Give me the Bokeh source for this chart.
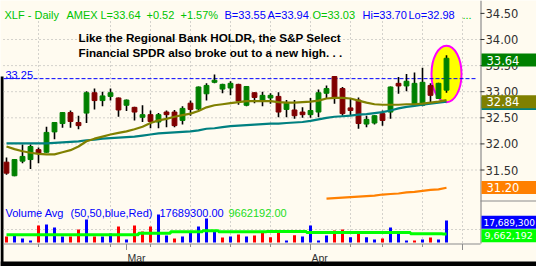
from bokeh.plotting import figure
from bokeh.models import Range1d
from bokeh.embed import file_html
from bokeh.resources import INLINE
from bokeh.core.properties import value

# ---------------- data ----------------
ticker = "XLF"
exchange = "AMEX"
opens = [31.65, 31.39, 31.67, 31.70, 31.89, 31.84, 32.23, 32.39, 32.60, 32.41,
         32.59, 32.98, 32.83, 32.91, 32.88, 32.74, 32.70, 32.51, 32.56, 32.42,
         32.61, 32.61, 32.45, 32.78, 32.67, 32.96, 33.18, 33.05, 33.07, 33.14,
         32.74, 32.98, 32.82, 32.88, 32.91, 32.66, 32.65, 32.61, 32.56, 32.61,
         32.97, 33.29, 33.06, 32.69, 32.84, 32.38, 32.40, 32.58, 32.61, 33.16,
         33.11, 32.74, 32.74, 33.12, 32.87, 33.03]
closes = [31.44, 31.70, 31.76, 31.95, 31.82, 32.22, 32.41, 32.60, 32.43, 32.35,
          32.98, 32.83, 32.92, 32.98, 32.65, 32.84, 32.61, 32.56, 32.43, 32.56,
          32.56, 32.35, 32.68, 32.66, 33.09, 33.12, 33.22, 33.14, 33.16, 32.82,
          33.10, 32.89, 32.93, 32.93, 32.61, 32.78, 32.54, 32.56, 32.64, 32.98,
          33.06, 32.88, 32.58, 32.64, 32.39, 32.47, 32.54, 32.45, 33.09, 33.11,
          33.20, 33.16, 33.18, 32.93, 33.16, 33.64]
highs = [31.74, 31.71, 31.99, 31.99, 31.93, 32.33, 32.42, 32.61, 32.64, 32.54,
         33.01, 33.06, 33.00, 33.06, 32.89, 32.85, 32.71, 32.74, 32.64, 32.59,
         32.64, 32.65, 32.72, 32.83, 33.10, 33.16, 33.33, 33.15, 33.20, 33.15,
         33.11, 32.99, 33.00, 32.97, 32.99, 32.84, 32.84, 32.70, 32.88, 33.04,
         33.12, 33.30, 33.09, 32.86, 32.89, 32.54, 32.55, 32.64, 33.10, 33.28,
         33.34, 33.37, 33.46, 33.16, 33.17, 33.70]
lows = [31.41, 31.38, 31.63, 31.52, 31.63, 31.83, 32.09, 32.31, 32.31, 32.28,
        32.40, 32.66, 32.72, 32.83, 32.52, 32.63, 32.45, 32.42, 32.30, 32.30,
        32.32, 32.32, 32.37, 32.54, 32.64, 32.83, 33.16, 32.97, 32.93, 32.75,
        32.72, 32.78, 32.72, 32.77, 32.51, 32.51, 32.48, 32.50, 32.50, 32.51,
        32.88, 32.77, 32.54, 32.54, 32.29, 32.32, 32.37, 32.35, 32.48, 32.96,
        33.01, 32.72, 32.72, 32.80, 32.86, 32.98]
ma_olive = [31.95, 31.90, 31.86, 31.83, 31.81, 31.80, 31.80, 31.84, 31.88, 31.95,
            32.05, 32.10, 32.14, 32.18, 32.21, 32.24, 32.28, 32.33, 32.40, 32.45,
            32.48, 32.52, 32.55, 32.58, 32.63, 32.70, 32.74, 32.76, 32.78, 32.80,
            32.82, 32.82, 32.82, 32.82, 32.80, 32.79, 32.79, 32.80, 32.81, 32.83,
            32.87, 32.88, 32.88, 32.87, 32.83, 32.79, 32.76, 32.75, 32.75, 32.75,
            32.76, 32.76, 32.77, 32.79, 32.81, 32.84]
ma_teal = [32.01, 32.01, 32.01, 32.01, 32.01, 32.01, 32.02, 32.03, 32.04, 32.05,
           32.07, 32.08, 32.10, 32.11, 32.12, 32.13, 32.14, 32.16, 32.18, 32.20,
           32.21, 32.22, 32.23, 32.24, 32.26, 32.29, 32.30, 32.32, 32.34, 32.35,
           32.36, 32.37, 32.38, 32.39, 32.39, 32.40, 32.41, 32.42, 32.44, 32.47,
           32.50, 32.52, 32.53, 32.54, 32.56, 32.57, 32.59, 32.61, 32.64, 32.68,
           32.71, 32.73, 32.75, 32.77, 32.79, 32.81]
ma_orange_start = 40
ma_orange = [30.95, 30.96, 30.97, 30.98, 30.99, 31.00, 31.01, 31.03, 31.04, 31.05,
             31.07, 31.08, 31.10, 31.12, 31.13, 31.16]
ma_orange_label = 31.20
volumes_m = [8.17, 9.36, 6.98, 5.79, 14.71, 15.31, 13.52, 8.17, 8.17, 12.33,
             18.28, 8.17, 8.17, 9.95, 14.12, 6.38, 14.71, 11.14, 14.12, 21.26,
             8.76, 6.98, 8.17, 11.14, 14.12, 18.88, 11.74, 7.57, 8.17, 9.36,
             8.17, 8.76, 10.55, 7.75, 11.74, 5.79, 8.94, 8.17, 14.71, 5.79,
             8.76, 11.74, 12.33, 7.75, 9.95, 7.75, 6.38, 6.98, 13.52, 9.95,
             5.79, 5.79, 6.38, 7.57, 6.38, 17.6893]
vol_up = [0, 1, 1, 1, 0, 1, 1, 1, 0, 0,
          1, 0, 1, 1, 0, 1, 0, 0, 0, 1,
          1, 0, 1, 1, 1, 1, 1, 0, 1, 0,
          1, 0, 0, 0, 0, 1, 0, 1, 1, 1,
          1, 0, 0, 1, 0, 1, 1, 0, 1, 1,
          1, 0, 1, 0, 1, 1]
vol_ma_m = [9.18, 9.18, 9.18, 9.18, 9.18, 9.18, 9.18, 9.18, 9.18, 9.18,
            9.18, 9.18, 9.18, 9.18, 9.18, 9.18, 9.18, 10.13, 10.13, 10.13,
            10.13, 10.96, 10.96, 10.96, 10.96, 11.56, 11.56, 10.96, 10.96, 10.96,
            10.96, 10.96, 10.96, 11.14, 11.14, 11.14, 11.14, 11.14, 10.55, 10.55,
            10.55, 10.55, 10.55, 10.55, 10.55, 10.55, 10.55, 10.55, 10.55, 10.55,
            10.55, 9.78, 9.78, 9.78, 9.78, 9.66]
vol_last = 17689300
vol_avg_last = 9662192
quote = {"L": 33.64, "chg": 0.52, "pct": 1.57, "B": 33.55, "A": 33.94,
         "O": 33.03, "Hi": 33.70, "Lo": 32.98}
level = 33.25
price_ticks = [34.50, 34.00, 33.50, 33.00, 32.50, 32.00, 31.50]
week_ticks = [4, 13, 18, 23, 28, 33, 38, 43, 47, 52, 57]
month_ticks = [15, 38, 57]
month_labels = ["Mar", "Apr", ""]
note_lines = ["Like the Regional Bank HOLDR, the S&P Select",
              "Financial SPDR also broke out to a new high. . ."]

# ---------------- layout helpers (pixel <-> data) ----------------
W, H = 536, 266
BG = "#FFFBF0"
GRID = "#A8A8A8"
AXIS = "#8C8C8C"
GREEN_TXT = "#00C400"
BLUE_TXT = "#0000FF"
BAR0, STEP = 6.0, 8.0


def X(px):
    return (px - BAR0) / STEP


def P(py):
    return 34.0 - (py - 39.0) / 52.2


def PY(v):
    return 39.0 + (34.0 - v) * 52.2


VOL_FLOOR = 4.6


def V(py):
    return VOL_FLOOR + (242.0 - py) * 0.595


def VY(v):
    return 242.0 - (v - VOL_FLOOR) / 0.595


n = len(closes)
idx = list(range(n))

p = figure(width=W, height=H, x_range=Range1d(X(0), X(W)), y_range=Range1d(P(H), P(0)),
           x_axis_type=None, y_axis_type=None, min_border=0, toolbar_location=None,
           output_backend="svg", background_fill_color=BG, border_fill_color=BG,
           outline_line_color=None)
p.extra_y_ranges = {"vol": Range1d(V(H), V(0))}

# black frame edges of the screenshot
p.quad(left=[X(0)], right=[X(3)], top=[P(76)], bottom=[P(H)], fill_color="black", line_color=None)
p.quad(left=[X(0)], right=[X(W)], top=[P(261)], bottom=[P(H)], fill_color="black", line_color=None)

# grid
gp = [t for t in price_ticks if t < 34.25]
p.segment(x0=[X(3)] * len(gp), x1=[X(480)] * len(gp), y0=gp, y1=gp,
          line_color=GRID, line_dash="1 3", line_width=1)
p.segment(x0=week_ticks, x1=week_ticks, y0=[P(17)] * len(week_ticks), y1=[P(243)] * len(week_ticks),
          line_color=GRID, line_dash="1 3", line_width=1)
p.segment(x0=[X(3)], x1=[X(480)], y0=[P(229)], y1=[P(229)], line_color=GRID, line_dash="1 3", line_width=1)

# highlight ellipse around last bar
p.ellipse(x=[n - 1], y=[(highs[-1] + lows[-1]) / 2], width=30 / STEP,
          height=(highs[-1] - lows[-1]) * 1.5, fill_color="#FFFF00",
          line_color="#FF00FF", line_width=2)

# dashed breakout level
p.segment(x0=[X(3)], x1=[X(476)], y0=[level], y1=[level], line_color="#0000FF",
          line_dash="4 2", line_width=1)

# candles
body_col = ["#008000" if c >= o else "#800000" for o, c in zip(opens, closes)]
p.segment(x0=idx, x1=idx, y0=lows, y1=highs, line_color="black", line_width=1.6)
p.vbar(x=idx, width=0.6, top=[max(o, c) for o, c in zip(opens, closes)],
       bottom=[min(o, c) for o, c in zip(opens, closes)],
       fill_color=body_col, line_color=body_col, line_width=1)

# moving averages
p.line(idx, ma_teal, line_color="#008080", line_width=2.2)
p.line(idx, ma_olive, line_color="#808000", line_width=2.2)
p.line(list(range(ma_orange_start, ma_orange_start + len(ma_orange))), ma_orange,
       line_color="#FF8000", line_width=2.2)

# volume
vcol = ["#0000FF" if u else "#FF0000" for u in vol_up]
p.vbar(x=idx, width=0.375, bottom=VOL_FLOOR, top=volumes_m, fill_color=vcol,
       line_color=None, y_range_name="vol")
p.step(idx, vol_ma_m, mode="center", line_color="#00FF00", line_width=3, y_range_name="vol")

# right price axis
p.segment(x0=[X(480.5)], x1=[X(480.5)], y0=[P(0)], y1=[P(243)], line_color=AXIS, line_width=1.2)
p.segment(x0=[X(480)], x1=[X(W)], y0=[P(200.5)], y1=[P(200.5)], line_color=AXIS, line_width=1.2)
p.segment(x0=[X(480)] * len(price_ticks), x1=[X(484)] * len(price_ticks), y0=price_ticks,
          y1=price_ticks, line_color="#303030", line_width=1)
p.text(x=[X(485)] * len(price_ticks), y=price_ticks, text=[f"{t:.2f}" for t in price_ticks],
       text_font=value("DejaVu Sans"), text_font_size="11.5px", text_color="#303030",
       text_baseline="middle", text_align="left")

# value boxes on the right axis
boxes = [
    (PY(closes[-1]), f"{closes[-1]:.2f}", "#008000", 486, "11.5px"),
    (PY(ma_teal[-1]), f"{ma_teal[-1]:.2f}", "#008080", 486, "11.5px"),
    (PY(ma_olive[-1]), f"{ma_olive[-1]:.2f}", "#808000", 486, "11.5px"),
    (PY(ma_orange_label), f"{ma_orange_label:.2f}", "#FF8000", 486, "11.5px"),
    (VY(vol_last / 1e6), f"{vol_last:,}", "#0000FF", 483, "9px"),
    (VY(vol_avg_last / 1e6), f"{vol_avg_last:,}", "#00FF00", 484, "9.5px"),
]
for ypx, txt, col, tx, fs in boxes:
    c = ypx + 1.8
    p.quad(left=[X(481)], right=[X(W)], top=[P(c - 6.5)], bottom=[P(c + 6.5)],
           fill_color=col, line_color=None)
    p.text(x=[X(tx)], y=[P(c)], text=[txt], text_font=value("DejaVu Sans"),
           text_font_size=fs, text_color="white", text_baseline="middle", text_align="left")

# bottom time axis
p.segment(x0=[X(3)], x1=[X(480)], y0=[P(243.5)], y1=[P(243.5)], line_color=AXIS, line_width=1.2)
p.segment(x0=week_ticks, x1=week_ticks, y0=[P(243.5)] * len(week_ticks),
          y1=[P(246.5)] * len(week_ticks), line_color=AXIS, line_width=1)
p.segment(x0=month_ticks, x1=month_ticks, y0=[P(243.5)] * len(month_ticks),
          y1=[P(249.5)] * len(month_ticks), line_color=AXIS, line_width=1)
p.text(x=month_ticks, y=[P(257)] * len(month_ticks), text=month_labels, x_offset=1,
       text_font=value("Liberation Sans"), text_font_size="10.5px", text_color="#303030",
       text_baseline="alphabetic", text_align="left")

# header line
q = quote
hdr = [
    (f"{ticker} - Daily", 4, GREEN_TXT), (exchange, 66, GREEN_TXT),
    (f"L={q['L']:.2f}", 100, GREEN_TXT), (f"+{q['chg']:.2f}", 146, GREEN_TXT),
    (f"+{q['pct']:.2f}%", 180, GREEN_TXT), (f"B={q['B']:.2f}", 224, BLUE_TXT),
    (f"A={q['A']:.2f}", 267, BLUE_TXT), (f"O={q['O']:.2f}", 312, GREEN_TXT),
    (f"Hi={q['Hi']:.2f}", 362, BLUE_TXT), (f"Lo={q['Lo']:.2f}", 408, BLUE_TXT),
    ("...", 462, GREEN_TXT),
]
p.text(x=[X(h[1]) for h in hdr], y=[P(14)] * len(hdr), text=[h[0] for h in hdr],
       text_color=[h[2] for h in hdr], text_font=value("Liberation Sans"),
       text_font_size="11px", text_baseline="alphabetic", text_align="left")

# level label
p.text(x=[X(5)], y=[P(74)], text=[f"{level:.2f}"], text_color=BLUE_TXT,
       text_font=value("Liberation Sans"), text_font_size="11px", text_baseline="alphabetic")

# annotation
p.text(x=[X(78), X(78)], y=[P(36.8), P(51.8)], text=note_lines, text_color="black",
       text_font=value("Liberation Sans"), text_font_style="bold", text_font_size="11.7px",
       text_baseline="alphabetic", text_align="left")

# volume header
vh = [("Volume Avg", 5, BLUE_TXT), ("(50,50,blue,Red)", 70, BLUE_TXT),
      (f"{vol_last:.2f}", 159, BLUE_TXT), (f"{vol_avg_last:.2f}", 228, "#22DD22")]
p.text(x=[X(v[1]) for v in vh], y=[P(212)] * len(vh), text=[v[0] for v in vh],
       text_color=[v[2] for v in vh], text_font=value("Liberation Sans"),
       text_font_size="11px", text_baseline="alphabetic", text_align="left")

open("out.html", "w").write(file_html(p, INLINE))
